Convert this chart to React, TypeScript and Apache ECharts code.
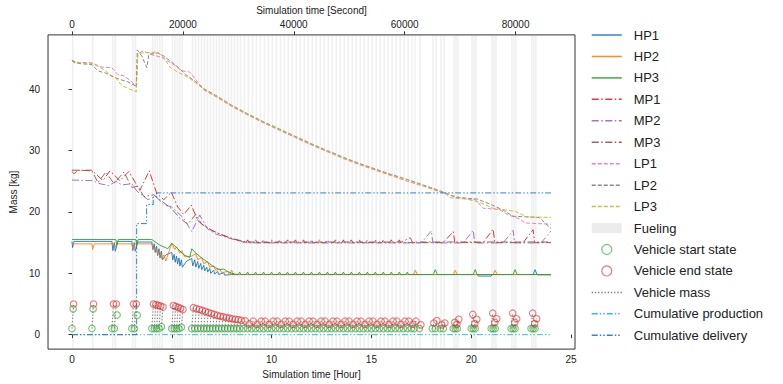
import React, { useEffect, useRef } from 'react';
import * as echarts from 'echarts';

type P = [number, number | string];

// ---- Tick labels ----
const hourTicks = [0, 5, 10, 15, 20, 25];
const secondTicks = [0, 20000, 40000, 60000, 80000];
const massTicks = [0, 10, 20, 30, 40];

// ---- Fueling events (hours) ----
const evStartT = [
  0.0, 1.0, 2.0, 2.12, 3.0, 3.12,
  4.0, 4.12, 4.24, 4.36, 4.48,
  5.0, 5.12, 5.24, 5.36, 5.48,
  6.0, 6.15, 6.3, 6.45, 6.6, 6.75, 6.9, 7.05, 7.2, 7.35, 7.5, 7.65, 7.8, 7.95, 8.1, 8.25, 8.4,
  8.6, 8.8, 9.0, 9.2, 9.4, 9.6, 9.8, 10.0, 10.2, 10.4, 10.6, 10.8, 11.0, 11.2, 11.4, 11.6, 11.8, 12.0, 12.2,
  12.4, 12.6, 12.8, 13.0, 13.2, 13.4, 13.6, 13.8, 14.0, 14.2, 14.4, 14.6, 14.8, 15.0, 15.2, 15.4, 15.6, 15.8,
  16.0, 16.2, 16.4, 16.6, 16.8,
  17.0, 17.15, 17.4, 18.05, 18.2, 18.45, 18.6,
  19.1, 19.2, 19.3, 20.0, 20.1, 20.2, 21.0, 21.1, 21.2, 22.0, 22.1, 22.2, 23.0, 23.1, 23.2,
];
const evEndT = [
  0.08, 1.08, 2.08, 2.22, 3.08, 3.22,
  4.08, 4.2, 4.32, 4.44, 4.56,
  5.08, 5.2, 5.32, 5.44, 5.56,
  6.08, 6.23, 6.38, 6.53, 6.68, 6.83, 6.98, 7.13, 7.28, 7.43, 7.58, 7.73, 7.88, 8.03, 8.18, 8.33, 8.48,
  8.68, 8.88, 9.08, 9.28, 9.48, 9.68, 9.88, 10.08, 10.28, 10.48, 10.68, 10.88, 11.08, 11.28, 11.48, 11.68, 11.88, 12.08, 12.28,
  12.48, 12.68, 12.88, 13.08, 13.28, 13.48, 13.68, 13.88, 14.08, 14.28, 14.48, 14.68, 14.88, 15.08, 15.28, 15.48, 15.68, 15.88,
  16.08, 16.28, 16.48, 16.68, 16.88,
  17.08, 17.23, 17.48, 18.13, 18.28, 18.53, 18.68,
  19.18, 19.28, 19.38, 20.08, 20.18, 20.28, 21.08, 21.18, 21.28, 22.08, 22.18, 22.28, 23.08, 23.18, 23.28,
];
const evStartM = [
  1.0, 1.0, 1.0, 1.0, 1.0, 1.0,
  1.0, 1.0, 1.0, 1.0, 1.3,
  1.0, 1.0, 1.0, 1.0, 1.2,
  1.0, 1.0, 1.0, 1.0, 1.0, 1.0, 1.0, 1.0, 1.0, 1.0, 1.0, 1.0, 1.0, 1.0, 1.0, 1.0, 1.0,
  1.0, 1.0, 1.0, 1.0, 1.0, 1.0, 1.0, 1.0, 1.0, 1.0, 1.0, 1.0, 1.0, 1.0, 1.0, 1.0, 1.0, 1.0, 1.0,
  1.0, 1.0, 1.0, 1.0, 1.0, 1.0, 1.0, 1.0, 1.0, 1.0, 1.0, 1.0, 1.0, 1.0, 1.0, 1.0, 1.0, 1.0,
  1.0, 1.0, 1.0, 1.0, 1.0,
  1.0, 1.0, 1.0, 1.0, 1.0, 1.0, 1.0,
  1.0, 1.0, 1.0, 1.0, 1.0, 1.0, 1.0, 1.0, 1.0, 1.0, 1.0, 1.0, 1.0, 1.0, 1.0,
];
const evEndM = [
  5.0, 5.0, 5.0, 5.0, 5.0, 5.0,
  5.0, 4.9, 4.8, 4.65, 4.5,
  4.75, 4.6, 4.45, 4.3, 4.1,
  4.4, 4.25, 4.1, 3.95, 3.8, 3.6, 3.45, 3.3, 3.15, 3.0, 2.9, 2.8, 2.7, 2.6, 2.5, 2.45, 2.35,
  2.25, 1.75, 2.2, 1.7, 2.2, 2.2, 1.7, 2.2, 2.2, 1.7, 2.2, 2.2, 1.7, 2.2, 2.2, 1.7, 2.2, 2.2, 1.7,
  2.2, 2.2, 1.7, 2.2, 2.2, 1.7, 2.2, 2.2, 1.7, 2.2, 2.2, 1.7, 2.2, 2.2, 1.7, 2.2, 2.2, 1.7, 2.2,
  2.2, 1.7, 2.2, 2.2, 1.7,
  2.2, 1.6, 1.9, 2.3, 1.6, 1.9, 2.0,
  1.7, 2.5, 3.3, 1.8, 2.5, 3.5, 2.0, 2.6, 3.5, 2.0, 2.6, 3.5, 1.8, 2.6, 3.5,
];
// intermediate vehicle start states
const extraStartT = [0.06, 1.06, 2.26, 3.27];
const extraStartM = [4.2, 4.2, 3.2, 3.2];

// ---- Small periodic refill bumps in steady state ----
const hpBumpT = [8.4, 8.8, 9.2, 9.6, 10.0, 10.4, 10.8, 11.2, 11.6, 12.0, 12.4, 12.8, 13.2, 13.6, 14.0, 14.4, 14.8, 15.2, 15.6, 16.0, 16.4, 16.8];
const mpBumpT = [8.8, 9.2, 9.6, 10.0, 10.4, 10.8, 11.2, 11.6, 12.0, 12.4, 12.8, 13.2, 13.6, 14.0, 14.4, 14.8, 15.2, 15.6, 16.0, 16.4];

// ---- Tank masses [hour, kg] ----
const hp1Early: P[] = [[0, 15.2], [0.03, 14.2], [0.1, 15.2], [2.0, 15.2], [2.05, 13.7], [2.12, 15.0], [2.17, 13.6], [2.3, 15.2], [3.0, 15.2], [3.05, 13.7], [3.12, 15.0], [3.17, 13.6], [3.3, 15.1], [4.0, 15.1], [4.05, 13.9], [4.12, 14.8], [4.17, 13.4], [4.24, 14.4], [4.29, 12.9], [4.36, 14.0], [4.41, 12.5], [4.48, 13.6], [4.53, 12.2], [4.7, 13.0], [5.0, 13.4], [5.05, 12.2], [5.12, 13.1], [5.17, 11.8], [5.24, 12.8], [5.29, 11.5], [5.36, 12.5], [5.41, 11.2], [5.48, 12.2], [5.53, 11.0], [5.75, 12.0], [6.0, 12.4], [6.05, 11.2], [6.15, 12.2], [6.2, 11.0], [6.3, 11.9], [6.35, 10.8], [6.45, 11.6], [6.5, 10.6], [6.6, 11.3], [6.65, 10.4], [6.75, 11.0], [6.8, 10.2], [6.9, 10.8], [6.95, 10.0], [7.1, 10.5], [7.15, 9.9], [7.3, 10.3], [7.35, 9.8], [7.6, 10.1], [7.65, 9.7], [8.0, 9.8]];
const hp1Late: P[] = [[20.3, 9.8], [20.35, 9.55], [21.0, 9.55], [21.05, 9.8], [23.1, 9.8], [23.2, 10.6], [23.3, 9.75], [24.0, 9.75]];
const hp2: P[] = [[0, 14.8], [1.0, 14.8], [1.03, 13.9], [1.12, 14.8], [2.1, 14.8], [2.15, 14.3], [2.25, 14.8], [3.0, 14.8], [3.05, 14.0], [3.15, 14.8], [4.0, 14.8], [4.1, 13.8], [4.2, 14.2], [4.3, 13.0], [4.4, 13.6], [4.5, 12.4], [4.6, 13.0], [4.7, 12.0], [5.0, 14.9], [5.15, 13.9], [5.25, 14.3], [5.4, 13.3], [5.5, 13.7], [5.65, 12.7], [6.0, 12.8], [6.2, 13.2], [6.3, 12.2], [6.5, 12.6], [6.6, 11.6], [6.8, 11.9], [6.9, 11.0], [7.1, 11.2], [7.2, 10.5], [7.4, 10.7], [7.5, 10.1], [7.8, 10.3], [7.9, 9.8], [8.0, 10.5], [8.1, 9.8], [17.1, 9.8], [17.2, 10.5], [17.3, 9.8], [19.1, 9.8], [19.2, 10.5], [19.3, 9.8], [21.1, 9.8], [21.2, 10.5], [21.3, 9.8], [24.0, 9.8]];
const hp3Early: P[] = [[0, 15.5], [2.2, 15.5], [2.24, 14.6], [2.32, 15.5], [3.2, 15.5], [3.24, 14.8], [3.32, 15.5], [4.0, 15.5], [4.4, 14.6], [4.8, 14.0], [5.0, 14.9], [5.3, 14.0], [5.6, 13.0], [5.9, 12.6], [6.0, 14.0], [6.2, 13.3], [6.5, 12.5], [6.8, 11.8], [7.0, 11.3], [7.2, 10.9], [7.4, 10.6], [7.6, 10.7], [7.8, 10.3], [8.0, 10.0], [8.2, 9.85]];
const hp3Late: P[] = [[18.1, 9.8], [18.2, 10.6], [18.3, 9.8], [20.1, 9.8], [20.2, 10.6], [20.3, 9.8], [22.1, 9.8], [22.2, 10.6], [22.3, 9.8], [24.0, 9.8]];

const mp1Early: P[] = [[0, 26.8], [1.0, 26.8], [1.55, 25.1], [1.9, 26.7], [2.4, 25.1], [2.85, 26.6], [3.4, 23.5], [3.87, 26.7], [4.25, 23.0], [4.6, 22.0], [4.98, 23.2], [5.3, 20.8], [5.6, 19.6], [5.98, 21.1], [6.3, 18.6], [6.6, 17.8], [7.0, 17.0], [7.4, 16.4], [7.8, 15.9], [8.3, 15.4], [8.6, 15.05]];
const mp1Late: P[] = [[18.6, 15.0], [19.1, 16.8], [19.18, 15.0], [20.6, 15.0], [21.1, 17.2], [21.18, 15.0], [22.6, 15.0], [23.1, 17.1], [23.18, 15.0], [24.0, 15.0]];
const mp2: P[] = [[0, 25.2], [1.0, 25.1], [1.4, 24.6], [1.85, 24.3], [2.2, 25.0], [2.5, 24.4], [3.0, 24.6], [3.25, 23.4], [3.8, 22.0], [4.2, 22.5], [4.6, 21.2], [5.0, 20.8], [5.56, 19.1], [6.0, 16.8], [6.4, 19.5], [6.8, 17.2], [7.2, 16.4], [7.6, 16.0], [8.2, 15.4], [8.8, 14.95], [17.5, 14.95], [18.0, 16.9], [18.08, 14.95], [19.6, 14.95], [20.1, 17.0], [20.18, 14.95], [21.6, 14.95], [22.1, 17.0], [22.18, 14.95], [23.5, 14.95], [24.0, 16.9]];
const mp3: P[] = [[0, 26.6], [0.1, 26.2], [0.3, 26.8], [1.0, 26.7], [1.3, 24.8], [1.7, 26.5], [2.1, 24.6], [2.6, 26.5], [3.0, 24.0], [3.3, 24.2], [3.6, 22.5], [4.1, 22.8], [4.6, 21.5], [5.0, 20.5], [5.4, 19.0], [5.8, 18.0], [6.2, 19.6], [6.5, 18.0], [7.0, 17.0], [7.5, 16.3], [8.0, 15.7], [8.6, 15.2], [9.0, 15.1], [16.5, 15.1], [16.95, 15.8], [17.05, 15.1], [24.0, 15.1]];

const lp1: P[] = [[0, 44.8], [0.1, 44.4], [1.0, 44.3], [1.2, 44.0], [1.5, 43.6], [2.0, 43.5], [2.3, 42.4], [2.6, 42.2], [3.0, 41.2], [3.22, 40.5], [3.3, 45.9], [3.6, 46.2], [4.0, 45.6], [4.5, 45.2], [4.8, 44.6], [5.2, 43.8], [5.5, 43.0], [5.9, 42.8], [6.2, 41.6], [6.6, 39.9], [7.2, 38.8], [8.0, 37.2], [8.8, 35.8], [9.6, 34.5], [10.4, 33.3], [11.2, 32.1], [12.0, 30.9], [12.8, 29.8], [13.6, 28.7], [14.4, 27.7], [15.2, 26.8], [16.0, 25.9], [16.8, 25.0], [17.6, 24.2], [18.4, 23.3], [18.7, 23.0], [19.0, 22.3], [20.2, 22.0], [20.6, 20.6], [21.4, 20.4], [21.8, 19.6], [22.4, 18.9], [22.7, 18.2], [24.0, 18.0]];
const lp2: P[] = [[0, 44.7], [0.3, 44.2], [1.0, 44.0], [1.3, 43.0], [1.7, 42.6], [2.0, 42.1], [2.4, 41.6], [2.8, 41.2], [3.15, 40.6], [3.22, 40.3], [3.27, 46.4], [3.5, 45.4], [3.75, 43.5], [3.85, 45.7], [4.3, 45.9], [4.6, 45.4], [5.0, 44.4], [5.3, 43.6], [5.7, 42.4], [6.2, 41.2], [6.6, 40.1], [7.2, 39.0], [8.0, 37.4], [8.8, 36.0], [9.6, 34.7], [10.4, 33.5], [11.2, 32.3], [12.0, 31.1], [12.8, 30.0], [13.6, 28.9], [14.4, 27.9], [15.2, 27.0], [16.0, 26.1], [16.8, 25.3], [17.6, 24.4], [18.4, 23.5], [18.7, 23.1], [19.2, 22.4], [20.3, 22.1], [21.0, 21.2], [21.6, 20.3], [22.1, 19.3], [23.4, 19.1], [24.0, 17.3]];
const lp3: P[] = [[0, 44.6], [0.1, 44.3], [1.0, 44.2], [1.5, 43.4], [1.9, 42.4], [2.2, 41.8], [2.5, 40.6], [2.9, 40.0], [3.22, 39.6], [3.3, 45.8], [3.8, 46.0], [4.3, 46.0], [4.6, 45.2], [4.9, 43.6], [5.3, 42.8], [5.8, 42.0], [6.2, 41.0], [6.6, 40.0], [7.2, 38.9], [8.0, 37.3], [8.8, 35.9], [9.6, 34.6], [10.4, 33.4], [11.2, 32.2], [12.0, 31.0], [12.8, 29.9], [13.6, 28.8], [14.4, 27.8], [15.2, 26.9], [16.0, 26.0], [16.8, 25.2], [17.6, 24.3], [18.4, 23.4], [18.7, 23.0], [19.5, 22.3], [20.4, 21.6], [21.1, 20.6], [22.2, 20.1], [22.8, 19.2], [24.0, 19.1]];

const cumProduction: P[] = [[0, 0], [24.0, 0]];
const cumDelivery: P[] = [[0, 0], [3.24, 0], [3.24, 18.1], [3.74, 18.1], [3.74, 21.2], [4.07, 21.2], [4.07, 22.5], [4.24, 22.5], [4.24, 23.1], [24.0, 23.1]];

// ---- Styles ----
const FONT = 'Liberation Sans, Arial, sans-serif';
const TXT = '#222';
const DASHDOT = [7, 2.5, 1.5, 2.5];
const DASHED = [4, 2];
const DOTTED = [1.2, 2];
const DASHDOTDOT = [6, 2, 1.5, 2, 1.5, 2];

function bumps(times: number[], base: number, peak: number): P[] {
  const out: P[] = [];
  times.forEach((t) => {
    out.push([t - 0.08, base], [t, peak], [t + 0.06, base]);
  });
  return out;
}

function lineSeries(name: string, data: P[], color: string, type: any, z = 3) {
  return {
    type: 'line',
    name,
    data,
    symbol: 'none',
    z,
    lineStyle: { color, width: 1, type, opacity: 0.9 },
    itemStyle: { color },
    connectNulls: false,
    animation: false,
  };
}

const lineLegend = (name: string) => ({ name, itemStyle: { opacity: 0 } });

export default function App() {
  const ref = useRef<HTMLDivElement>(null);
  useEffect(() => {
    const chart = echarts.init(ref.current!, null, { renderer: 'svg' });

    const hp1 = [...hp1Early, ...hp1Late];
    const hp3 = [...hp3Early, ...bumps(hpBumpT, 9.8, 10.2), ...hp3Late];
    const mp1 = [...mp1Early, ...bumps(mpBumpT, 15.0, 15.45), ...mp1Late];

    const vehMass: P[] = [];
    evStartT.forEach((t, i) => {
      vehMass.push([t, evStartM[i]], [evEndT[i], evEndM[i]], [evEndT[i], '-']);
    });
    const starts: P[] = evStartT.map((t, i) => [t, evStartM[i]] as P).concat(
      extraStartT.map((t, i) => [t, extraStartM[i]] as P)
    );
    const ends: P[] = evEndT.map((t, i) => [t, evEndM[i]] as P);
    const bands = evStartT.map((t, i) => [{ xAxis: t }, { xAxis: evEndT[i] }]);

    const option: any = {
      animation: false,
      backgroundColor: '#fff',
      textStyle: { fontFamily: FONT },
      grid: { left: 42, right: 208, top: 31, bottom: 25, show: true, borderColor: '#333', borderWidth: 1 },
      xAxis: [
        {
          type: 'value', position: 'bottom', min: -1.2, max: 25.2,
          name: 'Simulation time [Hour]', nameLocation: 'middle', nameGap: 16,
          nameTextStyle: { fontSize: 10, color: TXT, fontFamily: FONT },
          axisLine: { show: false },
          axisTick: { show: true, customValues: hourTicks, length: 3.5, lineStyle: { color: '#333' } },
          axisLabel: { customValues: hourTicks, fontSize: 10, color: TXT, margin: 5, fontFamily: FONT },
          splitLine: { show: false },
        },
        {
          type: 'value', position: 'top', min: -4320, max: 90720,
          name: 'Simulation time [Second]', nameLocation: 'middle', nameGap: 17,
          nameTextStyle: { fontSize: 10, color: TXT, fontFamily: FONT },
          axisLine: { show: false },
          axisTick: { show: true, customValues: secondTicks, length: 3.5, lineStyle: { color: '#333' } },
          axisLabel: { customValues: secondTicks, formatter: (v: number) => String(v), fontSize: 10, color: TXT, margin: 5, fontFamily: FONT },
          splitLine: { show: false },
        },
      ],
      yAxis: {
        type: 'value', min: -2.35, max: 48.85,
        name: 'Mass [kg]', nameLocation: 'middle', nameGap: 18, nameRotate: 90,
        nameTextStyle: { fontSize: 10, color: TXT, fontFamily: FONT },
        axisLine: { show: false },
        axisTick: { show: true, customValues: massTicks, length: 3.5, lineStyle: { color: '#333' } },
        axisLabel: { customValues: massTicks, fontSize: 10, color: TXT, margin: 8, fontFamily: FONT },
        splitLine: { show: false },
      },
      legend: {
        orient: 'vertical', left: 591, top: 28, padding: 0,
        itemWidth: 30, itemHeight: 10, itemGap: 7.45,
        selectedMode: false,
        lineStyle: { width: 1.5 },
        textStyle: { fontSize: 13, color: TXT, fontFamily: FONT, lineHeight: 14, padding: [0, 0, 0, 7] },
        data: [
          lineLegend('HP1'), lineLegend('HP2'), lineLegend('HP3'),
          lineLegend('MP1'), lineLegend('MP2'), lineLegend('MP3'),
          lineLegend('LP1'), lineLegend('LP2'), lineLegend('LP3'),
          { name: 'Fueling', icon: 'rect', itemStyle: { color: '#ececec', borderWidth: 0 } },
          { name: 'Vehicle start state', itemStyle: { borderWidth: 1.2 } },
          { name: 'Vehicle end state', itemStyle: { borderWidth: 1.2 } },
          lineLegend('Vehicle mass'),
          lineLegend('Cumulative production'), lineLegend('Cumulative delivery'),
        ],
      },
      series: [
        {
          type: 'line', name: 'Fueling', data: [], symbol: 'none', z: 0,
          itemStyle: { color: '#ececec' }, lineStyle: { color: '#ececec' },
          markArea: { silent: true, itemStyle: { color: 'rgba(150,150,150,0.14)' }, label: { show: false }, data: bands },
        },
        lineSeries('HP1', hp1, '#1f77b4', 'solid'),
        lineSeries('HP2', hp2, '#ff7f0e', 'solid'),
        lineSeries('HP3', hp3, '#2ca02c', 'solid'),
        lineSeries('MP1', mp1, '#d62728', DASHDOT),
        lineSeries('MP2', mp2, '#9467bd', DASHDOT),
        lineSeries('MP3', mp3, '#8c564b', DASHDOT),
        lineSeries('LP1', lp1, '#e377c2', DASHED),
        lineSeries('LP2', lp2, '#7f7f7f', DASHED),
        lineSeries('LP3', lp3, '#bcbd22', DASHED),
        lineSeries('Vehicle mass', vehMass, '#666666', DOTTED, 2),
        lineSeries('Cumulative production', cumProduction, '#17becf', DASHDOTDOT),
        lineSeries('Cumulative delivery', cumDelivery, '#1f77b4', DASHDOTDOT),
        {
          type: 'scatter', name: 'Vehicle start state', data: starts, symbol: 'circle', symbolSize: 6.5, z: 5,
          itemStyle: { color: 'rgba(255,255,255,0)', borderColor: 'rgba(44,160,44,0.8)', borderWidth: 1.1 },
        },
        {
          type: 'scatter', name: 'Vehicle end state', data: ends, symbol: 'circle', symbolSize: 6.5, z: 5,
          itemStyle: { color: 'rgba(255,255,255,0)', borderColor: 'rgba(214,39,40,0.75)', borderWidth: 1.1 },
        },
      ],
    };
    chart.setOption(option);
    return () => chart.dispose();
  }, []);
  return <div ref={ref} style={{ position: 'fixed', left: 0, top: 0, width: 783, height: 384 }} />;
}
